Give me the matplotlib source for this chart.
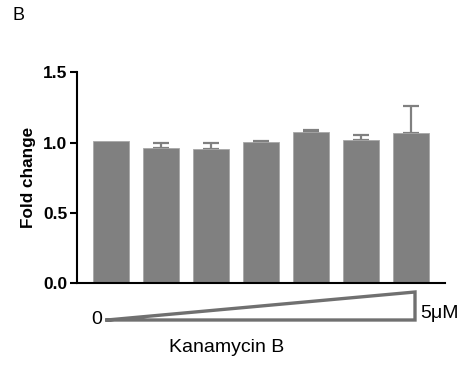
import matplotlib
matplotlib.use("Agg")
import matplotlib.pyplot as plt
from matplotlib.lines import Line2D

plt.rcParams['font.family'] = ['Liberation Sans', 'DejaVu Sans']

groups = ["1", "2", "3", "4", "5", "6", "7"]
means = [1.01, 0.965, 0.955, 1.005, 1.076, 1.02, 1.07]
err_up = [0.0, 0.03, 0.043, 0.005, 0.017, 0.037, 0.193]
yticks = [0.0, 0.5, 1.0, 1.5]

fig = plt.figure(figsize=(4.62, 3.69), dpi=100)
ax = fig.add_axes([77/462, 1-283/369, (445-77)/462, (283-72.5)/369])

x = list(range(len(groups)))
ax.bar(x, means, width=0.73, color='#808080', edgecolor='#a8a8a8', linewidth=0.6, zorder=2)
ex = [xi for xi, e in zip(x, err_up) if e > 0]
em = [m for m, e in zip(means, err_up) if e > 0]
ee = [e for e in err_up if e > 0]
ax.errorbar(ex, em, yerr=[[0]*len(ee), ee], fmt='none', ecolor='#808080',
            elinewidth=1.6, capsize=6, capthick=1.6, zorder=1)

ax.set_xlim(-0.68, 6.68)
ax.set_ylim(0, 1.5)
ax.set_yticks(yticks)
ax.set_yticklabels([f"{t:.1f}" for t in yticks], fontsize=12.5, fontweight='bold')
ax.set_xticks([])
for s in ['top', 'right']:
    ax.spines[s].set_visible(False)
ax.spines['left'].set_linewidth(1.5)
ax.spines['bottom'].set_linewidth(1.5)
ax.tick_params(axis='y', width=1.5, length=5, pad=2)
ax.set_ylabel("Fold change", fontsize=12.3, fontweight='bold', labelpad=5)

# dose triangle
W, H = 462, 369
def fx(px): return px / W
def fy(py): return 1 - py / H
tri_x = [fx(107), fx(415), fx(415), fx(107)]
tri_y = [fy(320), fy(292), fy(320), fy(320)]
fig.add_artist(Line2D(tri_x, tri_y, color='#707070', linewidth=2.4, solid_joinstyle='miter'))
fig.text(fx(97), fy(319), "0", fontsize=14, ha='center', va='center')
fig.text(fx(420), fy(313), "5μM", fontsize=14, ha='left', va='center')
fig.text(fx(227), fy(348), "Kanamycin B", fontsize=14, ha='center', va='center')
fig.text(fx(12), fy(16), "B", fontsize=13, ha='left', va='center')

fig.savefig("out.png", dpi=100)
